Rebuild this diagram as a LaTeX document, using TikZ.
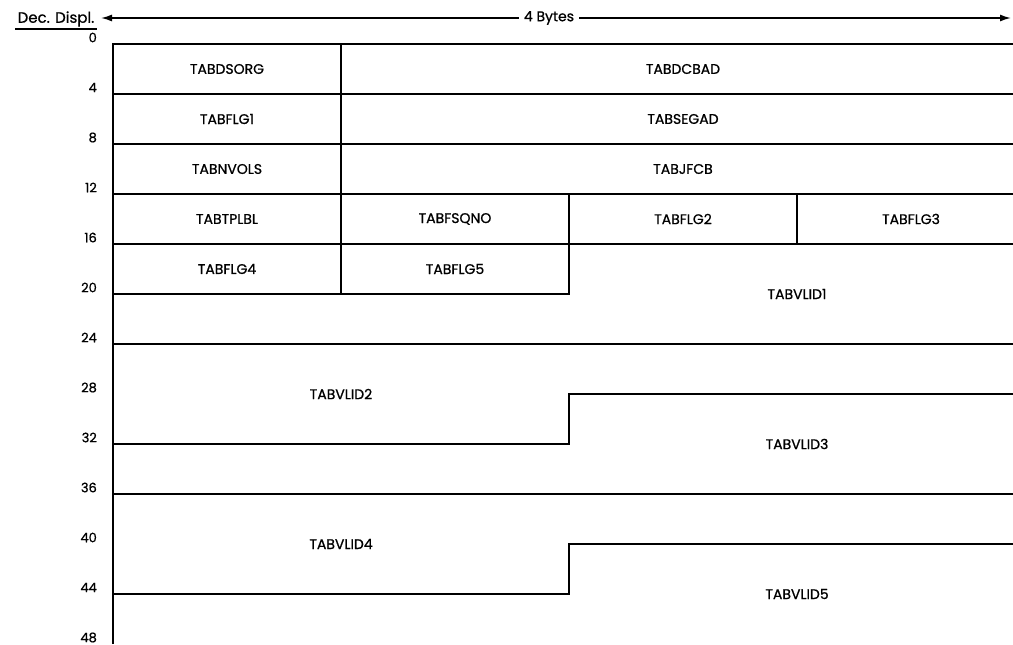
\documentclass[tikz,border=0pt]{standalone}
\usepackage{fontspec}
\setmainfont{Poppins}[FakeBold=0.8]
\usetikzlibrary{arrows.meta}

\begin{document}
\begin{tikzpicture}[x=1pt, y=-1pt,
  field/.style={font=\fontsize{14}{14}\selectfont, inner sep=1pt},
  displ/.style={anchor=east, font=\fontsize{13}{13}\selectfont, inner sep=0pt, yshift=6.5pt},
  border/.style={line width=1.5pt},
  span/.style={-{Latex[length=11pt,width=7pt]}, line width=1.5pt}
]
\useasboundingbox (0,0) rectangle (1013,645);
\clip (0,0) rectangle (1013,645);
% heading
\node[field, font=\fontsize{15}{15}\selectfont, inner sep=2pt] (dd) at (56,19) {Dec. Displ.};
\draw[border] (dd.south west) -- (dd.south east);
\node[field, fill=white, inner sep=5pt] (bytes) at (549,18) {4 Bytes};
\coordinate (lend) at (101,18);
\coordinate (rend) at (1011,18);
\draw[span] (bytes.west) -- (lend);
\draw[span] (bytes.east) -- (rend);
% x in bytes, y in decimal displacement
\begin{scope}[shift={(113,44)}, x=228pt, y=-12.5pt]
  \foreach \d in {0,4,...,48}
    \node[displ] (d\d) at (-0.07,\d) {\d};
  \draw[border] (0,48) -- (0,0) -- (4,0);
  \foreach \d in {4,8,12,16,24,36}
    \draw[border] (0,\d) -- (4,\d);
  \draw[border] (1,0) -- (1,20);
  \draw[border] (0,20) -- (2,20) -- (2,12);
  \draw[border] (3,12) -- (3,16);
  \draw[border] (4,28) -- (2,28) -- (2,32) -- (0,32);
  \draw[border] (4,40) -- (2,40) -- (2,44) -- (0,44);
  % field names
  \foreach \x/\d/\name in {
    0.5/2/TABDSORG, 2.5/2/TABDCBAD,
    0.5/6/TABFLG1, 2.5/6/TABSEGAD,
    0.5/10/TABNVOLS, 2.5/10/TABJFCB,
    0.5/14/TABTPLBL, 1.5/14/TABFSQNO, 2.5/14/TABFLG2, 3.5/14/TABFLG3,
    0.5/18/TABFLG4, 1.5/18/TABFLG5,
    3/20/TABVLID1, 1/28/TABVLID2, 3/32/TABVLID3,
    1/40/TABVLID4, 3/44/TABVLID5}
    \node[field] (\name) at (\x,\d) {\name};
\end{scope}
\end{tikzpicture}
\end{document}
